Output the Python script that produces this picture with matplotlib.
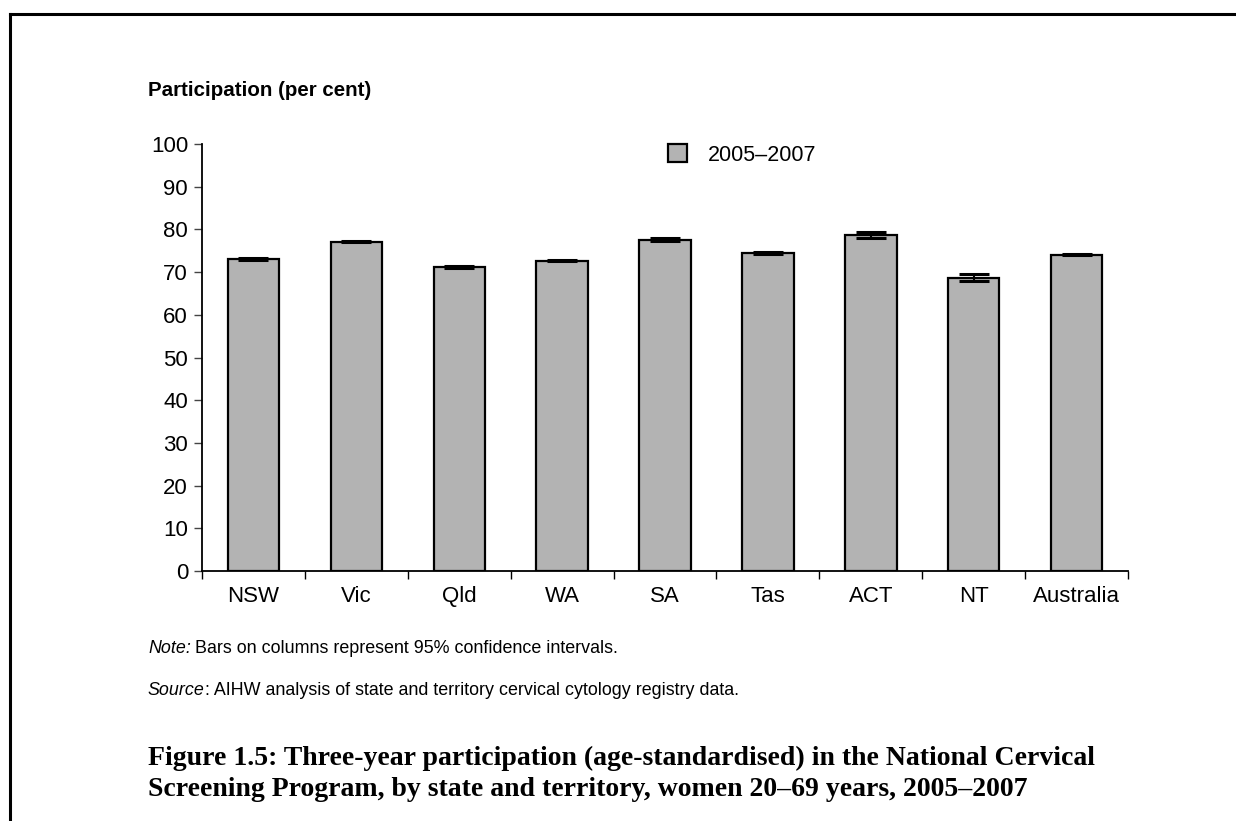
import matplotlib
matplotlib.use("Agg")
import matplotlib.pyplot as plt
from matplotlib.patches import Patch
from matplotlib.lines import Line2D
import numpy as np

# Data: three-year participation (age-standardised), 2005–2007
states = ["NSW", "Vic", "Qld", "WA", "SA", "Tas", "ACT", "NT", "Australia"]
participation = [73.0, 77.1, 71.2, 72.7, 77.6, 74.5, 78.7, 68.7, 74.1]
ci_half_width = [0.2, 0.15, 0.15, 0.2, 0.3, 0.3, 0.7, 0.8, 0.15]
series_label = "2005\u20132007"
y_ticks = list(range(0, 101, 10))

W, H = 1236, 821
fig = plt.figure(figsize=(W / 100, H / 100), dpi=100)
plt.rcParams["font.family"] = ["Liberation Sans", "DejaVu Sans"]

def fx(px):
    return px / W

def fy(py):
    return 1 - py / H

# Plot area in pixel terms
ax_left, ax_right = 202, 1128
ax_bottom, ax_top = 571, 144
ax = fig.add_axes([fx(ax_left), fy(ax_bottom), fx(ax_right - ax_left),
                   (ax_bottom - ax_top) / H])

x = np.arange(len(states))
bar_color = "#b3b3b3"
ax.bar(x, participation, width=0.5, color=bar_color, edgecolor="black",
       linewidth=1.6, zorder=2)
ax.errorbar(x, participation, yerr=ci_half_width, fmt="none", ecolor="black",
            elinewidth=1.5, capsize=11, capthick=2.2, zorder=3)

ax.set_xlim(-0.5, len(states) - 0.5)
ax.set_ylim(0, 100)
ax.set_yticks(y_ticks)
ax.set_yticklabels([str(t) for t in y_ticks], fontsize=16)
ax.set_xticks(x)
ax.set_xticklabels(states, fontsize=16)
ax.set_xticks(np.arange(-0.5, len(states)), minor=True)
ax.tick_params(axis="x", which="major", length=0, pad=11)
ax.tick_params(axis="x", which="minor", length=6, width=1.0, direction="out",
               color="black")
ax.tick_params(axis="y", length=6, width=1.0, direction="out", pad=4,
               color="#444444")

for side in ("top", "right"):
    ax.spines[side].set_visible(False)
for side in ("left", "bottom"):
    ax.spines[side].set_linewidth(1.3)
    ax.spines[side].set_color("black")

# Axis title above the value axis
fig.text(fx(148), fy(91), "Participation (per cent)", fontsize=14.8,
         fontweight="bold", ha="left", va="center")

# Legend
handle = Patch(facecolor=bar_color, edgecolor="black", linewidth=1.6)
fig.legend([handle], [series_label], loc="center left",
           bbox_to_anchor=(fx(668), fy(155)), frameon=False, fontsize=15.5,
           handlelength=0.9, handleheight=0.9, handletextpad=0.95,
           borderpad=0, borderaxespad=0)

# Notes
fig.canvas.draw()
renderer = fig.canvas.get_renderer()
note_size = 12.9
note = fig.text(fx(148), fy(648), "Note:", fontsize=note_size, style="italic",
                ha="left", va="center")
bb = note.get_window_extent(renderer)
fig.text((bb.x1 + 4) / W, fy(648),
         "Bars on columns represent 95% confidence intervals.",
         fontsize=note_size, ha="left", va="center")

src = fig.text(fx(148), fy(690), "Source", fontsize=note_size, style="italic",
               ha="left", va="center")
bb = src.get_window_extent(renderer)
fig.text(bb.x1 / W, fy(690),
         ": AIHW analysis of state and territory cervical cytology registry data.",
         fontsize=note_size, ha="left", va="center")

# Figure caption
caption_font = ["Liberation Serif", "DejaVu Serif"]
fig.text(fx(148), fy(758),
         "Figure 1.5: Three-year participation (age-standardised) in the National Cervical",
         fontsize=20, fontweight="bold", family=caption_font, ha="left",
         va="center")
fig.text(fx(148), fy(789),
         "Screening Program, by state and territory, women 20\u201369 years, 2005\u20132007",
         fontsize=20, fontweight="bold", family=caption_font, ha="left",
         va="center")

# Page frame: rule along the top and down the left side
fig.add_artist(Line2D([fx(10), fx(1236)], [fy(14), fy(14)], color="black",
                      linewidth=2.2, transform=fig.transFigure))
fig.add_artist(Line2D([fx(10), fx(10)], [fy(14), fy(821)], color="black",
                      linewidth=2.2, transform=fig.transFigure))

fig.savefig("out.png", dpi=100)
